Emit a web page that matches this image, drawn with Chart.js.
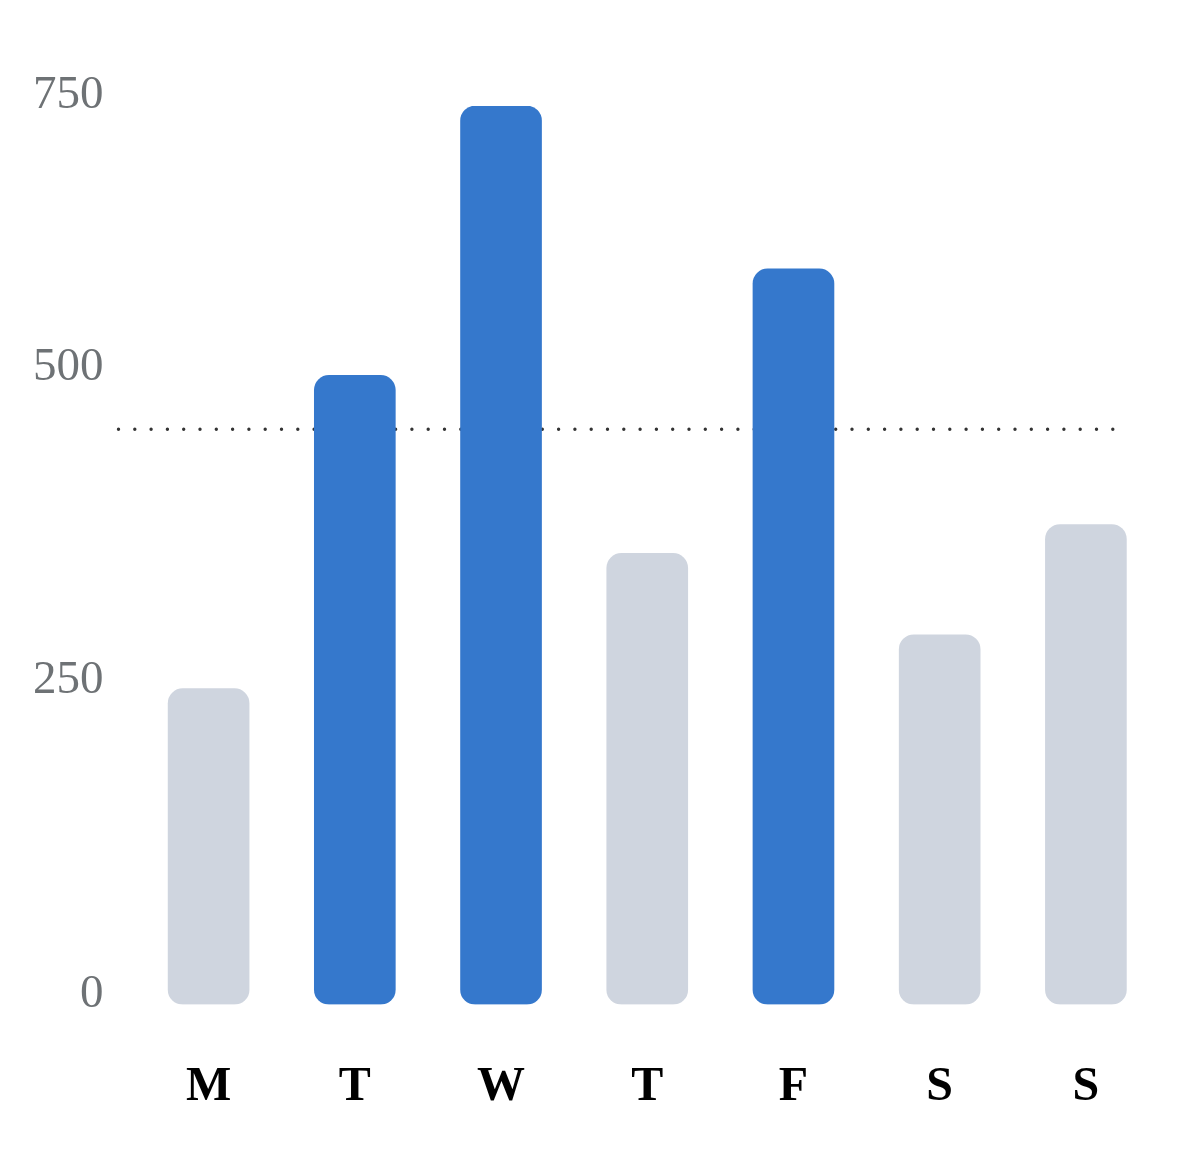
<!DOCTYPE html>
<html>
<head>
<meta charset="utf-8">
<script src="https://cdn.jsdelivr.net/npm/chart.js@4"></script>
<style>
  html, body { margin: 0; padding: 0; background: #ffffff; }
  #wrap { width: 1200px; height: 1172px; }
</style>
</head>
<body>
<div id="wrap"><canvas id="c"></canvas></div>
<script>
const categories = ['M', 'T', 'W', 'T', 'F', 'S', 'S'];
const values = [252, 502, 717, 360, 587, 295, 383];
const threshold = 459;
const yTickValues = [0, 250, 500, 750];
const yTickLabels = ['0', '250', '500', '750'];

const BLUE = '#3578cc';
const GRAY = '#cfd5df';

const thresholdLine = {
  id: 'thresholdLine',
  beforeDatasetsDraw(chart) {
    const { ctx, scales: { x, y } } = chart;
    const py = y.getPixelForValue(threshold);
    ctx.save();
    ctx.strokeStyle = '#333333';
    ctx.lineWidth = 3.4;
    ctx.lineCap = 'round';
    ctx.setLineDash([0, 16.3]);
    ctx.beginPath();
    ctx.moveTo(x.left - 17, py);
    ctx.lineTo(x.right - 45, py);
    ctx.stroke();
    ctx.restore();
  }
};

new Chart(document.getElementById('c'), {
  type: 'bar',
  data: {
    labels: categories,
    datasets: [{
      data: values,
      backgroundColor: ctx => (ctx.raw > threshold ? BLUE : GRAY),
      borderRadius: 15,
      borderSkipped: false,
      barThickness: 81
    }]
  },
  options: {
    responsive: true,
    maintainAspectRatio: false,
    animation: false,
    layout: { padding: { top: 106, right: 41, bottom: 2, left: 1 } },
    plugins: { legend: { display: false }, tooltip: { enabled: false } },
    scales: {
      x: {
        grid: { display: false, drawTicks: false },
        border: { display: false },
        ticks: {
          padding: 54,
          color: '#000000',
          font: { family: '"Liberation Serif", "Times New Roman", serif', size: 48, weight: 'bold' }
        }
      },
      y: {
        min: 0,
        max: Math.max(...values),
        grid: { display: false, drawTicks: false },
        border: { display: false },
        afterBuildTicks: scale => {
          scale.ticks = yTickValues.map(v => ({ value: Math.min(v, scale.max) }));
        },
        ticks: {
          padding: 32,
          labelOffset: -10,
          color: '#6e7275',
          font: { family: '"Liberation Serif", "Times New Roman", serif', size: 47 },
          callback: (value, index) => yTickLabels[index]
        }
      }
    }
  },
  plugins: [thresholdLine]
});
</script>
</body>
</html>
